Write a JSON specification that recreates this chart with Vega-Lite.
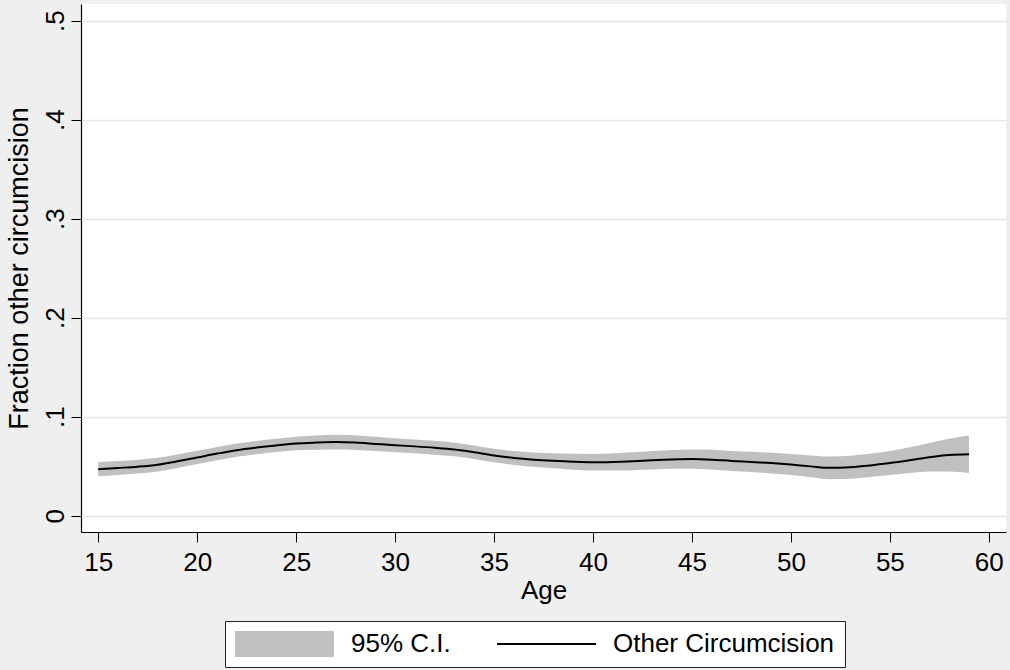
{
  "$schema": "https://vega.github.io/schema/vega-lite/v6.json",
  "width": 925,
  "height": 528,
  "autosize": {"type": "none"},
  "padding": {"left": 81, "top": 4, "right": 4, "bottom": 138},
  "background": "#efefef",
  "config": {
    "font": "Liberation Sans",
    "view": {"fill": "white", "stroke": null}
  },
  "data": {"values": [
    {"age": 15, "y": 0.0470, "lo": 0.0398, "hi": 0.0542},
    {"age": 16, "y": 0.0482, "lo": 0.0411, "hi": 0.0553},
    {"age": 17, "y": 0.0495, "lo": 0.0425, "hi": 0.0565},
    {"age": 18, "y": 0.0515, "lo": 0.0446, "hi": 0.0584},
    {"age": 19, "y": 0.0550, "lo": 0.0482, "hi": 0.0618},
    {"age": 20, "y": 0.0588, "lo": 0.0521, "hi": 0.0655},
    {"age": 21, "y": 0.0627, "lo": 0.0560, "hi": 0.0694},
    {"age": 22, "y": 0.0662, "lo": 0.0595, "hi": 0.0729},
    {"age": 23, "y": 0.0688, "lo": 0.0621, "hi": 0.0755},
    {"age": 24, "y": 0.0710, "lo": 0.0642, "hi": 0.0778},
    {"age": 25, "y": 0.0729, "lo": 0.0660, "hi": 0.0798},
    {"age": 26, "y": 0.0738, "lo": 0.0666, "hi": 0.0810},
    {"age": 27, "y": 0.0743, "lo": 0.0668, "hi": 0.0818},
    {"age": 28, "y": 0.0738, "lo": 0.0664, "hi": 0.0812},
    {"age": 29, "y": 0.0725, "lo": 0.0653, "hi": 0.0797},
    {"age": 30, "y": 0.0712, "lo": 0.0641, "hi": 0.0783},
    {"age": 31, "y": 0.0700, "lo": 0.0630, "hi": 0.0770},
    {"age": 32, "y": 0.0686, "lo": 0.0616, "hi": 0.0756},
    {"age": 33, "y": 0.0668, "lo": 0.0599, "hi": 0.0737},
    {"age": 34, "y": 0.0640, "lo": 0.0572, "hi": 0.0708},
    {"age": 35, "y": 0.0607, "lo": 0.0539, "hi": 0.0675},
    {"age": 36, "y": 0.0583, "lo": 0.0513, "hi": 0.0653},
    {"age": 37, "y": 0.0566, "lo": 0.0493, "hi": 0.0639},
    {"age": 38, "y": 0.0554, "lo": 0.0478, "hi": 0.0630},
    {"age": 39, "y": 0.0545, "lo": 0.0465, "hi": 0.0625},
    {"age": 40, "y": 0.0540, "lo": 0.0456, "hi": 0.0624},
    {"age": 41, "y": 0.0543, "lo": 0.0456, "hi": 0.0630},
    {"age": 42, "y": 0.0550, "lo": 0.0460, "hi": 0.0640},
    {"age": 43, "y": 0.0560, "lo": 0.0467, "hi": 0.0653},
    {"age": 44, "y": 0.0568, "lo": 0.0473, "hi": 0.0663},
    {"age": 45, "y": 0.0572, "lo": 0.0475, "hi": 0.0669},
    {"age": 46, "y": 0.0566, "lo": 0.0467, "hi": 0.0665},
    {"age": 47, "y": 0.0553, "lo": 0.0452, "hi": 0.0654},
    {"age": 48, "y": 0.0543, "lo": 0.0441, "hi": 0.0645},
    {"age": 49, "y": 0.0531, "lo": 0.0427, "hi": 0.0635},
    {"age": 50, "y": 0.0516, "lo": 0.0410, "hi": 0.0622},
    {"age": 51, "y": 0.0498, "lo": 0.0388, "hi": 0.0608},
    {"age": 52, "y": 0.0483, "lo": 0.0369, "hi": 0.0597},
    {"age": 53, "y": 0.0490, "lo": 0.0374, "hi": 0.0606},
    {"age": 54, "y": 0.0508, "lo": 0.0390, "hi": 0.0626},
    {"age": 55, "y": 0.0532, "lo": 0.0411, "hi": 0.0653},
    {"age": 56, "y": 0.0560, "lo": 0.0430, "hi": 0.0690},
    {"age": 57, "y": 0.0590, "lo": 0.0445, "hi": 0.0735},
    {"age": 58, "y": 0.0612, "lo": 0.0447, "hi": 0.0777},
    {"age": 59, "y": 0.0620, "lo": 0.0430, "hi": 0.0810}
  ]},
  "layer": [
    {
      "mark": {"type": "area", "interpolate": "monotone"},
      "encoding": {
        "x": {
          "field": "age", "type": "quantitative",
          "scale": {"domain": [14.13, 60.87], "nice": false, "zero": false},
          "axis": {
            "title": "Age",
            "values": [15, 20, 25, 30, 35, 40, 45, 50, 55, 60],
            "grid": false,
            "domainColor": "black", "domainWidth": 1.2,
            "tickColor": "black", "tickSize": 10, "tickWidth": 1,
            "labelFontSize": 26, "labelColor": "black", "labelPadding": 7,
            "titleFontSize": 26, "titleFontWeight": "normal", "titleColor": "black", "titlePadding": 2
          }
        },
        "y": {
          "field": "lo", "type": "quantitative",
          "scale": {"domain": [-0.0165, 0.5169], "nice": false, "zero": false},
          "axis": {
            "title": "Fraction other circumcision",
            "values": [0, 0.1, 0.2, 0.3, 0.4, 0.5],
            "labelExpr": "datum.value == 0 ? '0' : replace(format(datum.value, '.1f'), '0.', '.')",
            "grid": true, "gridColor": "#e6e6e6", "gridWidth": 1.5,
            "domainColor": "black", "domainWidth": 1.2,
            "tickColor": "black", "tickSize": 10, "tickWidth": 1,
            "labelAngle": -90, "labelAlign": "center", "labelBaseline": "alphabetic",
            "labelFontSize": 26, "labelColor": "black", "labelPadding": 8,
            "titleFontSize": 27, "titleFontWeight": "normal", "titleColor": "black", "titlePadding": 9
          }
        },
        "y2": {"field": "hi"},
        "color": {
          "datum": "95% C.I.",
          "type": "nominal",
          "scale": {"domain": ["95% C.I.", "Other Circumcision"], "range": ["#c0c0c0", "black"]},
          "legend": {
            "title": null,
            "orient": "none",
            "legendX": 144,
            "legendY": 617,
            "direction": "horizontal",
            "fillColor": "white",
            "strokeColor": "#222222",
            "padding": 10,
            "columnPadding": 42,
            "gridAlign": "none",
            "symbolSize": 676,
            "labelOffset": 90,
            "labelFontSize": 26,
            "labelColor": "black",
            "labelLimit": 400,
            "encode": {
              "symbols": {
                "update": {
                  "shape": {"signal": "datum.value == '95% C.I.' ? 'M-1,-1H6.615V1H-1Z' : 'M-1,0H6.615'"},
                  "fill": {"signal": "datum.value == '95% C.I.' ? '#c0c0c0' : 'transparent'"},
                  "stroke": {"signal": "datum.value == '95% C.I.' ? '#c0c0c0' : 'black'"},
                  "strokeWidth": {"signal": "datum.value == '95% C.I.' ? 0 : 2"}
                }
              }
            }
          }
        }
      }
    },
    {
      "mark": {"type": "line", "interpolate": "monotone", "strokeWidth": 2},
      "encoding": {
        "x": {"field": "age", "type": "quantitative"},
        "y": {"field": "y", "type": "quantitative"},
        "color": {"datum": "Other Circumcision", "type": "nominal"}
      }
    }
  ]
}
